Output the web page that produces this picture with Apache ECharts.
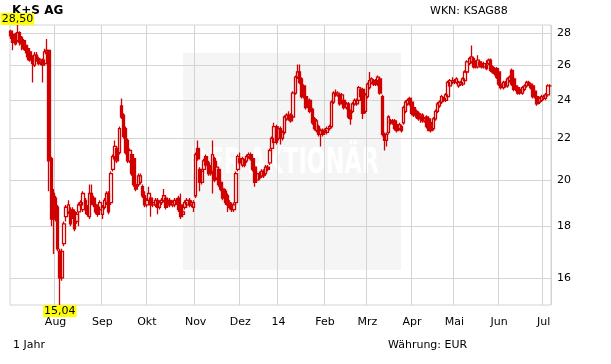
<!DOCTYPE html>
<html><head><meta charset="utf-8">
<script src="https://cdn.jsdelivr.net/npm/echarts@6/dist/echarts.min.js"></script>
<style>html,body{margin:0;padding:0;background:#fff}#c{width:611px;height:364px}</style>
</head><body><div id="c"></div><script>
// Trading-day calendar (Jul 2013 .. Jul 2014), one category per trading day
const months = ['Jul','Aug','Sep','Okt','Nov','Dez','14','Feb','Mrz','Apr','Mai','Jun','Jul'];
const tradingDays = [21,22,21,23,21,18,22,20,21,20,21,21,4];
const yTicks = [16,18,20,22,24,26,28];

const open = [
 28.1,27.9,27.9,27.5,28.0,27.7,27.5,27.2,27.0,26.8,26.4,26.0,26.6,26.4,26.2,26.3,26.1,26.7,26.9,21.0,19.4,
 19.2,18.8,17.0,16.0,17.3,18.4,18.6,18.7,18.7,18.6,18.2,18.6,18.9,18.7,19.1,18.8,18.4,19.4,19.2,18.9,18.8,18.7,
 18.5,18.8,19.0,19.4,19.0,20.5,21.0,21.5,21.3,23.7,23.2,22.5,21.9,20.9,21.2,21.0,19.8,19.8,19.9,19.7,19.3,
 18.9,19.1,19.2,18.9,18.9,19.1,18.8,19.0,19.1,19.2,18.9,19.1,18.9,18.9,19.1,19.2,18.9,18.5,18.8,18.9,19.1,18.9,18.8,
 19.3,21.5,20.5,19.9,20.5,21.1,20.8,20.6,20.4,21.0,20.1,20.5,19.9,19.6,19.5,19.3,19.0,18.9,18.7,19.0,20.5,
 21.0,20.7,20.9,20.9,21.1,21.2,21.0,20.6,20.0,20.3,20.2,20.4,20.3,20.6,20.8,21.5,21.8,22.6,
 22.0,22.5,22.0,22.3,23.0,23.2,23.2,23.1,24.4,25.3,25.6,25.2,24.8,24.2,23.7,24.0,23.5,23.0,22.4,22.6,22.2,22.4,
 22.3,22.3,22.5,22.6,23.9,24.4,24.3,24.3,23.9,24.0,23.6,23.8,23.4,23.4,23.8,23.8,24.0,24.6,24.6,23.4,
 24.2,24.7,25.0,25.1,24.9,24.9,25.2,24.2,22.2,21.9,22.3,22.9,22.8,22.9,22.7,22.5,22.6,22.8,23.4,23.8,24.1,
 23.9,23.6,23.4,23.3,23.1,23.2,22.9,23.1,23.0,22.8,22.5,23.0,23.4,23.7,23.9,24.1,24.0,24.2,24.8,25.0,
 25.1,25.0,24.8,24.9,24.9,25.1,25.6,26.1,26.2,26.4,26.2,25.9,26.2,26.1,25.9,26.0,26.1,26.3,25.9,25.8,25.8,
 25.6,24.9,24.7,25.0,24.8,25.1,25.7,25.2,24.8,24.7,24.6,24.4,24.6,24.8,25.0,24.9,24.8,24.5,24.2,23.9,24.0,
 24.1,24.1,24.3,24.8
];
const close = [
 27.8,27.4,27.3,28.0,27.4,27.3,27.0,26.9,26.5,26.3,26.1,26.6,26.3,26.1,26.3,26.0,26.8,26.9,20.9,18.3,18.3,
 18.4,17.1,16.0,17.0,18.1,18.8,18.9,18.1,18.4,17.9,18.5,18.9,19.0,19.4,18.7,18.5,19.4,19.0,18.9,18.6,18.5,19.0,
 18.8,19.1,19.4,18.6,20.3,21.1,21.6,20.9,22.5,23.1,22.1,21.3,20.9,21.4,20.3,19.8,19.6,20.2,20.2,19.3,18.9,
 19.1,19.4,18.9,19.0,19.1,18.8,19.0,19.1,19.3,18.8,19.1,18.9,19.0,19.1,19.0,18.7,18.4,18.6,19.0,19.1,18.9,19.0,19.0,
 21.2,21.0,19.9,20.4,20.9,20.7,20.3,20.3,21.2,20.0,20.6,19.8,19.6,19.2,19.0,18.9,18.8,18.7,18.9,20.3,21.1,
 20.8,21.0,20.7,21.1,21.2,21.0,20.5,19.9,20.3,20.1,20.4,20.2,20.6,20.5,21.4,22.0,22.6,21.8,
 22.5,22.0,22.3,23.1,23.2,23.0,22.9,24.4,25.3,25.6,25.0,24.2,24.2,23.6,24.0,23.4,22.8,22.5,22.9,22.2,22.4,22.2,
 22.4,22.5,22.6,23.9,24.4,24.3,24.4,23.8,24.3,23.6,23.8,23.1,23.0,23.8,24.0,24.0,24.7,24.2,23.3,24.3,
 24.9,25.1,25.2,24.9,25.1,25.3,24.4,22.2,21.9,22.2,23.1,22.8,22.9,22.5,22.4,22.7,22.4,23.6,23.9,24.0,23.8,
 23.3,23.2,23.1,23.0,23.2,22.9,23.0,22.6,22.4,22.4,23.0,23.4,23.8,23.9,24.2,24.0,24.3,25.0,25.1,25.1,
 25.0,25.2,25.0,25.0,25.2,25.6,26.2,26.4,26.5,25.9,25.9,26.3,26.0,25.9,26.1,25.8,26.3,25.7,25.6,25.5,25.3,
 24.9,24.7,25.0,24.8,25.2,25.3,24.9,24.6,24.6,24.4,24.4,24.7,24.8,25.0,24.9,24.7,24.2,24.2,23.8,24.1,24.2,
 24.2,24.3,24.8,24.8
];
const low = [
 27.6,26.9,27.2,27.4,27.2,26.9,26.9,26.7,26.3,26.2,25.0,25.9,26.2,26.0,26.0,25.0,26.0,26.6,19.5,18.0,16.9,
 18.2,17.0,15.04,15.9,17.2,18.2,18.5,18.0,18.3,17.8,18.1,18.0,18.8,18.6,18.5,18.4,18.3,18.9,18.8,18.5,18.4,18.6,
 18.3,18.7,18.9,18.5,18.9,20.4,20.9,20.8,21.2,23.0,22.0,21.2,20.8,20.8,20.2,19.7,19.5,19.7,19.8,19.2,18.8,
 18.8,19.0,18.4,18.8,18.8,18.5,18.7,18.9,19.0,18.7,18.8,18.8,18.8,18.8,18.9,18.6,18.3,18.4,18.7,18.8,18.8,18.8,18.6,
 19.2,20.9,19.5,19.8,20.4,20.6,20.2,20.2,19.4,19.9,20.0,19.7,19.5,19.1,18.9,18.6,18.7,18.6,18.6,18.9,20.4,
 20.7,20.6,20.6,20.8,21.0,20.9,20.4,19.7,19.9,20.0,20.1,20.1,20.2,20.4,20.7,21.4,21.7,21.7,
 21.9,21.7,21.9,22.2,22.9,22.9,22.8,23.0,24.3,25.2,24.9,24.1,24.1,23.5,23.6,23.3,22.7,22.4,22.3,22.1,21.6,22.1,
 22.2,22.2,22.4,22.5,23.8,24.2,24.2,23.7,23.8,23.5,23.5,23.0,22.7,23.3,23.7,23.7,23.9,24.1,23.0,23.3,
 24.1,24.6,24.9,24.8,24.8,24.8,24.3,22.1,21.4,21.6,22.2,22.7,22.7,22.4,22.3,22.4,22.3,22.7,23.3,23.7,23.7,
 23.2,23.1,23.0,22.9,22.8,22.8,22.8,22.5,22.4,22.3,22.4,22.9,23.3,23.6,23.8,23.9,23.9,24.1,24.7,24.9,
 24.9,24.9,24.7,24.8,24.8,25.0,25.5,26.0,26.1,25.8,25.8,25.8,25.9,25.8,25.8,25.7,26.0,25.6,25.5,25.4,25.2,
 24.8,24.6,24.6,24.7,24.7,25.0,24.8,24.5,24.5,24.3,24.3,24.3,24.5,24.7,24.8,24.6,24.1,24.1,23.7,23.8,23.9,
 24.0,24.0,24.2,24.7
];
const high = [
 28.2,28.0,28.0,28.5,28.1,27.8,27.6,27.3,27.1,26.9,26.6,26.8,26.8,26.5,26.4,26.4,27.0,27.6,26.9,21.1,19.6,
 19.3,18.9,17.1,17.1,18.2,18.9,19.1,18.8,18.8,18.7,18.6,19.0,19.1,19.5,19.2,18.9,19.8,19.8,19.3,19.0,18.9,19.1,
 18.9,19.2,19.5,19.5,20.4,21.2,21.9,21.6,22.6,24.1,23.3,22.6,22.0,21.5,21.3,21.1,19.9,20.3,20.3,19.8,19.5,
 19.2,19.7,19.3,19.1,19.2,19.2,19.1,19.2,19.6,19.3,19.2,19.2,19.1,19.2,19.2,19.3,19.4,18.7,19.1,19.2,19.2,19.1,19.1,
 21.3,21.9,20.6,20.5,21.0,21.2,20.9,20.7,21.9,21.1,20.9,20.6,20.0,19.7,19.6,19.4,19.1,19.0,19.0,20.4,21.2,
 21.3,21.1,21.0,21.2,21.3,21.3,21.1,20.7,20.4,20.4,20.5,20.5,20.7,20.7,21.5,22.1,22.8,22.7,
 22.6,22.6,22.4,23.2,23.3,23.4,23.3,24.5,25.4,26.05,26.05,25.3,24.9,24.3,24.1,24.1,23.6,23.1,23.0,22.7,22.5,22.5,
 22.5,22.6,22.7,24.0,24.5,24.6,24.5,24.4,24.4,24.1,23.9,23.9,23.5,23.9,24.1,24.1,24.8,24.7,24.7,24.4,
 25.0,25.6,25.3,25.2,25.2,25.4,25.3,24.3,22.3,22.3,23.2,23.0,23.0,23.0,22.8,22.8,22.7,23.7,24.0,24.1,24.2,
 24.0,23.7,23.5,23.4,23.3,23.3,23.1,23.2,23.1,22.9,23.1,23.5,23.9,24.0,24.3,24.2,24.4,25.1,25.2,25.3,
 25.2,25.3,25.1,25.1,25.3,25.7,26.3,26.5,27.2,26.5,26.3,26.6,26.3,26.2,26.2,26.3,26.4,26.4,26.0,25.9,25.9,
 25.7,25.0,25.1,25.1,25.3,25.4,25.8,25.3,24.9,24.8,24.7,24.8,24.9,25.1,25.1,25.0,24.9,24.6,24.3,24.2,24.3,
 24.3,24.4,24.9,24.9
];

const categories = [];
months.forEach((m, k) => { for (let d = 0; d < tradingDays[k]; d++) categories.push(k + '-' + d); });
const ohlc = open.map((o, i) => [Math.log(o), Math.log(close[i]), Math.log(low[i]), Math.log(high[i])]);
const isMonthStart = (idx, val) => /-0$/.test(String(val)) && !/^0-/.test(String(val));
const fmtPrice = v => Math.exp(v).toFixed(2).replace('.', ',');
const FONT = '"DejaVu Sans", Verdana, sans-serif';
const GRID = '#d4d4d4';
const RED = '#d00000';

const chart = echarts.init(document.getElementById('c'));
chart.setOption({
  animation: false,
  textStyle: {fontFamily: FONT},
  grid: {left: 10, top: 25, width: 541, height: 280, show: true, borderColor: GRID, borderWidth: 1, backgroundColor: 'transparent'},
  xAxis: {
    type: 'category', data: categories, boundaryGap: true,
    axisLine: {show: false}, axisTick: {show: false},
    axisLabel: {interval: isMonthStart, formatter: v => months[+String(v).split('-')[0]], color: '#000', fontSize: 11, margin: 12, fontFamily: FONT},
    splitLine: {show: true, interval: isMonthStart, lineStyle: {color: GRID, width: 1}}
  },
  yAxis: {
    type: 'value', position: 'right', min: 'dataMin', max: 'dataMax', scale: true,
    axisLine: {show: false},
    axisTick: {show: false, customValues: yTicks.map(Math.log)},
    axisLabel: {customValues: yTicks.map(Math.log), formatter: v => String(Math.round(Math.exp(v))), color: '#000', fontSize: 11, margin: 6, fontFamily: FONT},
    splitLine: {show: true, lineStyle: {color: GRID, width: 1}}
  },
  series: [{
    type: 'candlestick', data: ohlc, barWidth: 3,
    itemStyle: {color: 'transparent', color0: RED, borderColor: RED, borderColor0: RED, borderWidth: 1.3},
    markPoint: {
      symbol: 'rect', symbolSize: 0,
      label: {show: true, formatter: p => fmtPrice(p.value), backgroundColor: '#ffff00', color: '#000', fontSize: 11, fontFamily: FONT, padding: [1, 1, 0, 1], distance: 0},
      data: [
        {type: 'max', valueDim: 'highest', label: {position: 'top'}},
        {type: 'min', valueDim: 'lowest', label: {position: 'bottom'}}
      ]
    }
  }],
  graphic: [
    {type: 'rect', x: 183, y: 53, shape: {width: 218, height: 217}, style: {fill: '#f5f5f5'}, z: -10, silent: true},
    {type: 'text', x: 190, y: 146, scaleX: 0.62, style: {text: 'DER AKTIONÄR', font: 'bold 36px ' + FONT, fill: '#ffffff'}, z: -9, silent: true},
    {type: 'text', x: 12, y: 5, style: {text: 'K+S AG', font: 'bold 12px ' + FONT, fill: '#000'}},
    {type: 'text', x: 430, y: 6, style: {text: 'WKN: KSAG88', font: '11px ' + FONT, fill: '#000'}},
    {type: 'text', x: 13, y: 340, style: {text: '1 Jahr', font: '11px ' + FONT, fill: '#000'}},
    {type: 'text', x: 388, y: 340, style: {text: 'Währung: EUR', font: '11px ' + FONT, fill: '#000'}}
  ]
});
</script></body></html>
